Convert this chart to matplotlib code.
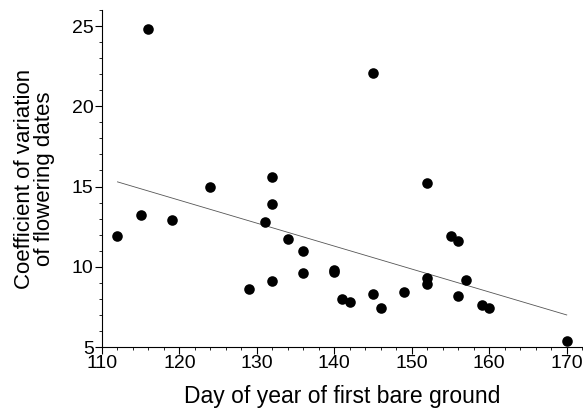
import numpy as np
import matplotlib
matplotlib.use("Agg")
import matplotlib.pyplot as plt
from matplotlib.ticker import MultipleLocator

# day of first bare ground vs coefficient of variation of flowering dates
bare_day = [112, 115, 116, 119, 124, 129, 131, 132, 132, 132, 134, 136, 136,
            140, 140, 141, 142, 145, 145, 146, 149, 152, 152, 152, 155, 156,
            156, 157, 159, 160, 170]
cv_flower = [11.9, 13.2, 24.8, 12.9, 15.0, 8.6, 12.8, 15.6, 13.9, 9.1, 11.7, 11.0, 9.6,
             9.8, 9.7, 8.0, 7.8, 8.3, 22.1, 7.4, 8.4, 15.2, 9.3, 8.9, 11.9, 11.6,
             8.2, 9.2, 7.6, 7.4, 5.4]

plt.rcParams['font.family'] = ['Liberation Sans', 'DejaVu Sans']

fig = plt.figure(figsize=(5.83, 4.13), dpi=100)
ax = fig.add_axes([102 / 583, 1 - 347 / 413, (583 - 102) / 583, (347 - 10) / 413])

ax.scatter(bare_day, cv_flower, s=58, color='black', zorder=3, linewidths=0)

slope, icpt = np.polyfit(bare_day, cv_flower, 1)
xs = np.array([min(bare_day), max(bare_day)])
ax.plot(xs, icpt + slope * xs, color='#555555', lw=0.6)

ax.set_xlim(110, 172.1)
ax.set_ylim(5, 26)
ax.xaxis.set_major_locator(MultipleLocator(10))
ax.xaxis.set_minor_locator(MultipleLocator(2))
ax.yaxis.set_major_locator(MultipleLocator(5))
ax.yaxis.set_minor_locator(MultipleLocator(1))
ax.tick_params(which='major', length=5, width=0.8, labelsize=14, direction='out', pad=1)
ax.tick_params(which='minor', length=2.5, width=0.6, direction='out')

for s in ['top', 'right']:
    ax.spines[s].set_visible(False)
for s in ['left', 'bottom']:
    ax.spines[s].set_linewidth(0.8)

ax.set_xlabel('Day of year of first bare ground', fontsize=16.5, labelpad=9)
ax.set_ylabel('Coefficient of variation\nof flowering dates', fontsize=16, labelpad=12,
              linespacing=0.95)

fig.savefig('out.png', dpi=100)
